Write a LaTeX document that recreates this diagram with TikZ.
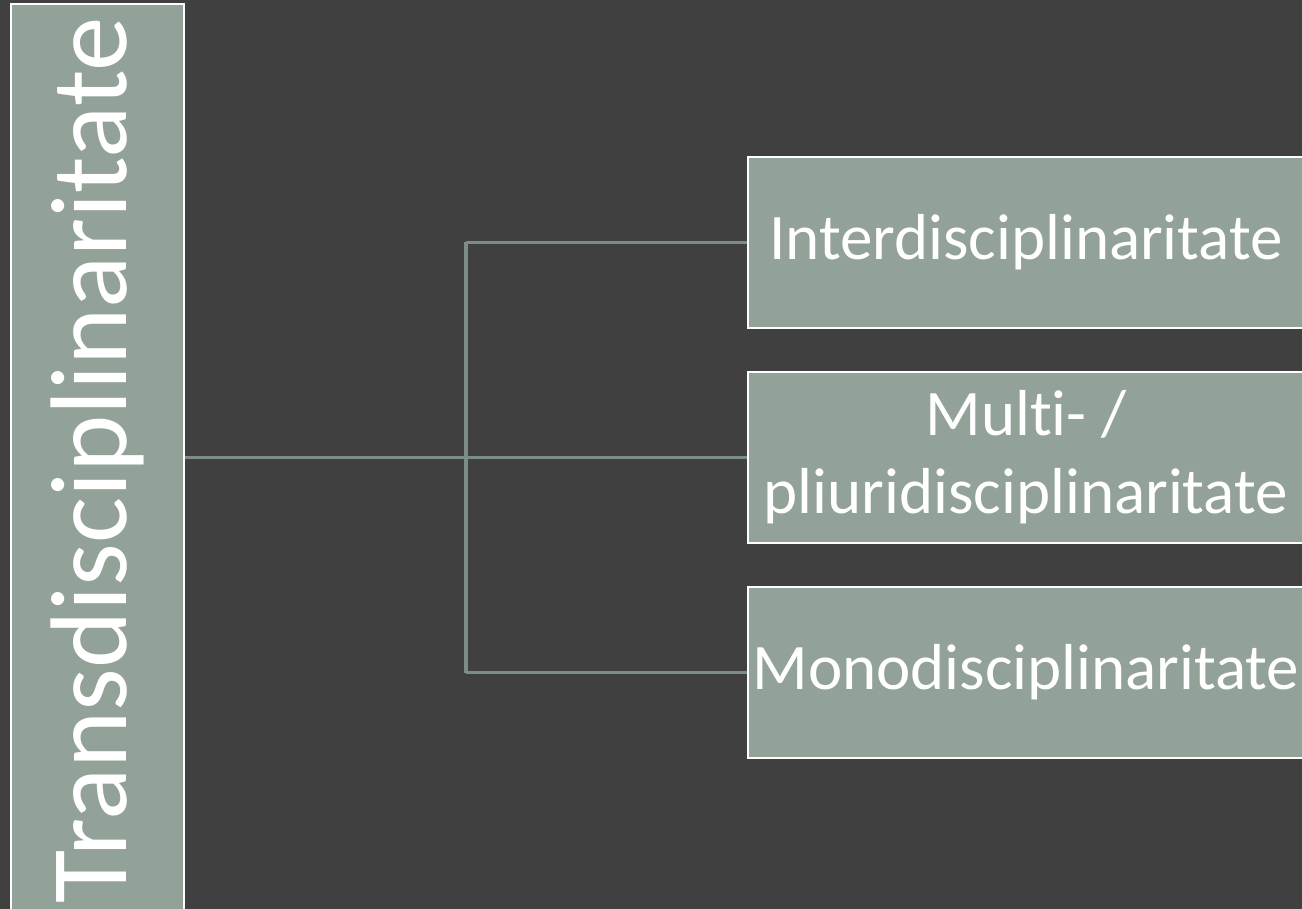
\documentclass[tikz,border=0pt]{standalone}
\usepackage{fontspec}
\setmainfont[Ligatures=NoCommon]{Carlito}
\definecolor{bgcol}{HTML}{404040}
\definecolor{boxfill}{HTML}{93A299}
\definecolor{linecol}{HTML}{7C8C87}
\begin{document}
\begin{tikzpicture}[x=1pt,y=-1pt,
  box/.style={draw=white, line width=2.5pt, fill=boxfill, text=white, inner sep=0pt,
    font=\fontsize{65}{78}\selectfont, align=center},
  conn/.style={draw=linecol, line width=3.8pt}]
\fill[bgcol] (0,0) rectangle (1302,909);
\useasboundingbox (0,0) rectangle (1302,909);
\node[box, rotate=90, minimum width=912pt, minimum height=173pt,
  font=\fontsize{109}{128}\selectfont] (T) at (97.5,460) {Transdisciplinaritate};
\node[box, minimum width=556pt, minimum height=171pt] (I) at (1026,242.5) {Interdisciplinaritate};
\node[box, minimum width=556pt, minimum height=171pt] (M) at (1026,457.5) {Multi- /\\pliuridisciplinaritate};
\node[box, minimum width=556pt, minimum height=171pt] (Mo) at (1026,672.5) {Monodisciplinaritate};
\coordinate (fork) at (466,457.5);
\draw[conn] (T.south |- M.west) -- (M.west);
\draw[conn] (fork |- I.west) -- (fork |- Mo.west);
\draw[conn] (fork |- I.west) -- (I.west);
\draw[conn] (fork |- Mo.west) -- (Mo.west);
\end{tikzpicture}
\end{document}
